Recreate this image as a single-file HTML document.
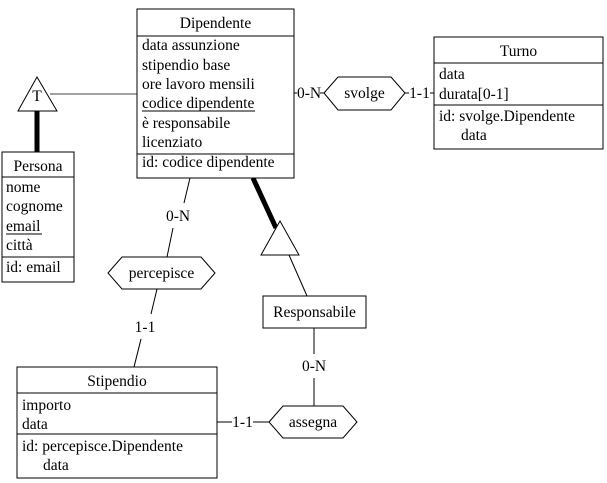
<!DOCTYPE html>
<html><head><meta charset="utf-8"><style>
html,body{margin:0;padding:0;background:#fff;}
svg{display:block;}
text{font-family:"Liberation Serif","Times New Roman",serif;font-size:15.5px;fill:#000;}
</style></head><body>
<svg width="607" height="483" viewBox="0 0 607 483" xmlns="http://www.w3.org/2000/svg">
<g fill="none" stroke="#000" stroke-width="1">
<line x1="50" y1="94" x2="137" y2="94" stroke="#444"/>
<line x1="37" y1="111" x2="37" y2="152" stroke-width="5"/>
<line x1="253" y1="178" x2="276" y2="228" stroke-width="5"/>
<line x1="289" y1="255" x2="307" y2="296"/>
<line x1="190" y1="178" x2="184" y2="203"/>
<line x1="173" y1="228" x2="167" y2="257"/>
<line x1="157" y1="289" x2="151" y2="314"/>
<line x1="141" y1="339" x2="134" y2="367"/>
<line x1="314" y1="328" x2="314" y2="354"/>
<line x1="314" y1="378" x2="314" y2="406"/>
<line x1="217" y1="422" x2="232" y2="422"/>
<line x1="253" y1="422" x2="269" y2="422"/>
<line x1="294" y1="93" x2="297" y2="93"/>
<line x1="320" y1="93" x2="324" y2="93"/>
<line x1="405" y1="93" x2="409" y2="93"/>
<line x1="430" y1="93" x2="434" y2="93"/>
<polygon points="37,77 18,111 57,111" fill="#fff"/>
<polygon points="280,221 261,255 299,255" fill="#fff"/>
<rect x="137" y="9" width="157" height="169" fill="#fff"/>
<line x1="137" y1="36" x2="294" y2="36"/>
<line x1="137" y1="154" x2="294" y2="154"/>
<rect x="2" y="152" width="72" height="130" fill="#fff"/>
<line x1="2" y1="177" x2="74" y2="177"/>
<line x1="2" y1="257" x2="74" y2="257"/>
<rect x="434" y="37" width="169" height="112" fill="#fff"/>
<line x1="434" y1="63" x2="603" y2="63"/>
<line x1="434" y1="105" x2="603" y2="105"/>
<rect x="17" y="367" width="200" height="111" fill="#fff"/>
<line x1="17" y1="393" x2="217" y2="393"/>
<line x1="17" y1="434" x2="217" y2="434"/>
<rect x="263" y="296" width="103" height="32" fill="#fff"/>
<polygon points="108,273 122,257 201,257 215,273 201,289 122,289" fill="#fff"/>
<polygon points="324,93 338,77 391,77 405,93 391,110 338,110" fill="#fff"/>
<polygon points="269,422 283,406 343,406 357,422 343,438 283,438" fill="#fff"/>
</g>
<text x="37" y="101" text-anchor="middle">T</text>
<text x="215.5" y="28" text-anchor="middle">Dipendente</text>
<text x="142" y="50">data assunzione</text>
<text x="142" y="70">stipendio base</text>
<text x="142" y="89">ore lavoro mensili</text>
<text x="142" y="108">codice dipendente</text>
<line x1="142" y1="111" x2="255" y2="111" stroke="#000"/>
<text x="142" y="128">è responsabile</text>
<text x="142" y="147">licenziato</text>
<text x="142" y="167">id: codice dipendente</text>
<text x="38" y="171" text-anchor="middle">Persona</text>
<text x="6" y="192">nome</text>
<text x="6" y="211">cognome</text>
<text x="6" y="231">email</text>
<line x1="6" y1="234" x2="42" y2="234" stroke="#000"/>
<text x="6" y="250">città</text>
<text x="6" y="272">id: email</text>
<text x="518.5" y="56" text-anchor="middle">Turno</text>
<text x="439" y="79">data</text>
<text x="439" y="99">durata[0-1]</text>
<text x="439" y="121">id: svolge.Dipendente</text>
<text x="461" y="140">data</text>
<text x="117" y="386" text-anchor="middle">Stipendio</text>
<text x="22" y="410">importo</text>
<text x="22" y="429">data</text>
<text x="22" y="451">id: percepisce.Dipendente</text>
<text x="43" y="470">data</text>
<text x="314.5" y="317" text-anchor="middle">Responsabile</text>
<text x="161.5" y="278" text-anchor="middle">percepisce</text>
<text x="364.5" y="98" text-anchor="middle">svolge</text>
<text x="313" y="427" text-anchor="middle">assegna</text>
<text x="178" y="221" text-anchor="middle">0-N</text>
<text x="145" y="332" text-anchor="middle">1-1</text>
<text x="314" y="371" text-anchor="middle">0-N</text>
<text x="242.5" y="427" text-anchor="middle">1-1</text>
<text x="309" y="98" text-anchor="middle">0-N</text>
<text x="419.5" y="98" text-anchor="middle">1-1</text>
</svg>
</body></html>
